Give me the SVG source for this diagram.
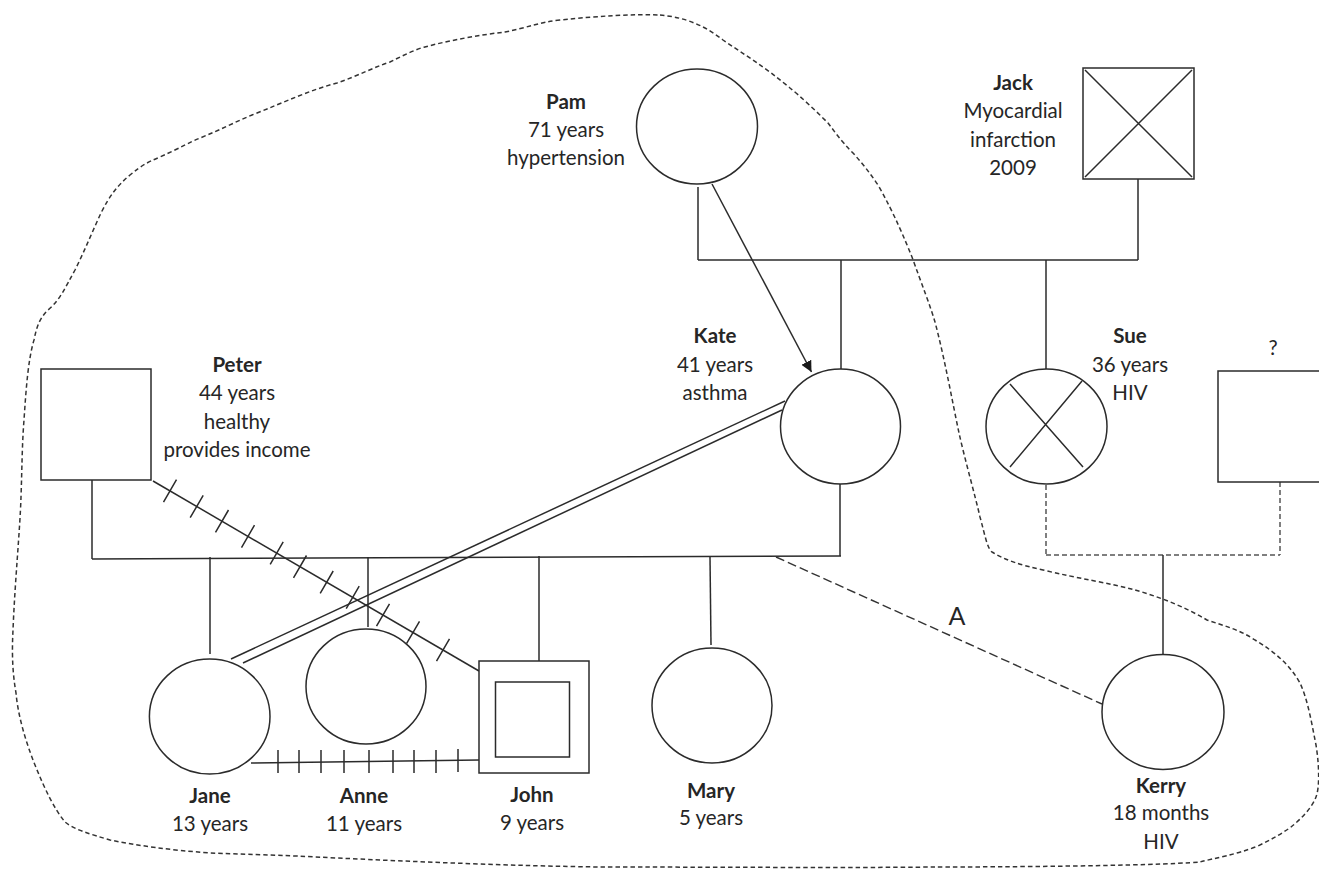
<svg xmlns="http://www.w3.org/2000/svg" width="1319" height="870" viewBox="0 0 1319 870">
<defs>
<style>
.s{fill:none;stroke:#2b2b2b;stroke-width:1.5}
.f{fill:#fff;stroke:#2b2b2b;stroke-width:1.5}
.d{fill:none;stroke:#555;stroke-width:1.5;stroke-dasharray:5 3}
.da{fill:none;stroke:#333;stroke-width:1.4;stroke-dasharray:9 4}
.b{fill:none;stroke:#333;stroke-width:1.5;stroke-dasharray:4.5 3}
text{font-family:Lato,"Open Sans","Liberation Sans",sans-serif;font-size:20.5px;fill:#262626;text-anchor:middle}
.n{font-weight:bold}
</style>
<marker id="ah" viewBox="0 0 10 10" refX="10" refY="5" markerWidth="11" markerHeight="11" markerUnits="userSpaceOnUse" orient="auto">
<path d="M0,0 L10,5 L0,10 Z" fill="#1a1a1a"/>
</marker>
</defs>
<rect width="1319" height="870" fill="#fff"/>

<g id="boundary">
<path class="b" d="M660,15 C680,17 700,22 723,40 C745,55 765,67 790,88 C800,96 815,110 828,123 C835,132 840,140 853,153 C862,163 870,173 878,185 C895,215 905,240 912,257 C922,285 930,305 935,322 C945,360 952,400 959,433 C965,460 975,495 980,517 C985,535 987,548 992,552 C1005,560 1020,565 1043,570 C1080,579 1110,583 1135,590 C1160,597 1185,607 1207,620 C1225,626 1240,630 1255,640 C1275,652 1290,665 1300,683 C1308,700 1312,725 1316,745 C1320,770 1319,790 1316,797 C1312,808 1300,820 1291,827 C1280,835 1270,840 1258,846 C1235,855 1215,858 1200,862 C1150,866 1000,867 934,867 C850,868 700,867 600,867 C520,866 420,862 337,858 C280,855 240,854 210,853 C170,850 140,846 110,840 C90,834 75,830 65,822 C55,810 45,790 35,765 C25,740 18,715 16,693 C12,670 12,650 13,630 C15,580 20,530 21,497 C22,470 22,445 24,420 C26,390 28,360 34,340 C37,325 40,318 48,310 C60,300 65,288 75,270 C85,250 93,230 101,213 C110,195 118,185 130,175 C142,165 148,162 160,157 C180,148 190,142 200,138 C220,130 235,122 252,115 C285,102 310,90 337,83 C360,75 372,68 390,62 C400,57 410,52 421,48 C450,40 480,35 505,32 C530,27 540,22 560,20 C600,16 630,14 660,15 Z"/>
</g>

<g id="connectors">
<line class="s" x1="698" y1="187" x2="698" y2="260"/>
<line class="s" x1="698" y1="260" x2="1138" y2="260"/>
<line class="s" x1="1138" y1="179" x2="1138" y2="260"/>
<line class="s" x1="841" y1="260" x2="841" y2="369"/>
<line class="s" x1="1046" y1="260" x2="1046" y2="369"/>
<line class="s" x1="712" y1="184" x2="811.5" y2="372" marker-end="url(#ah)"/>
<line class="s" x1="92" y1="480" x2="92" y2="559"/>
<line class="s" x1="92" y1="559" x2="841" y2="556"/>
<line class="s" x1="840" y1="484" x2="840" y2="556"/>
<line class="s" x1="210" y1="557" x2="210" y2="654"/>
<line class="s" x1="368" y1="557" x2="368" y2="627"/>
<line class="s" x1="539" y1="556" x2="539" y2="661"/>
<line class="s" x1="710" y1="557" x2="711" y2="645"/>
<line class="d" x1="1046" y1="485" x2="1046" y2="555"/>
<line class="d" x1="1046" y1="555" x2="1280" y2="555"/>
<line class="d" x1="1280" y1="482" x2="1280" y2="555"/>
<line class="s" x1="1163" y1="555" x2="1163" y2="655"/>
<line class="da" x1="776" y1="557" x2="1102" y2="704"/>
<text x="957" y="625" style="font-size:25px">A</text>
<line class="s" x1="231" y1="659" x2="785" y2="401"/>
<line class="s" x1="243" y1="663" x2="782" y2="410"/>
<g id="cutoff-peter-john">
<line class="s" x1="153" y1="481" x2="479" y2="671"/>
<path class="s" d="M163.5,502.1 l13,-22.4 M190.2,517.7 l13,-22.4 M215.5,532.4 l13,-22.4 M241.5,547.6 l13,-22.4 M270.2,564.3 l13,-22.4 M293.5,577.9 l13,-22.4 M320.2,593.4 l13,-22.4 M346.2,608.6 l13,-22.4 M376.5,626.2 l13,-22.4 M406.5,643.7 l13,-22.4 M436.5,661.2 l13,-22.4"/>
</g>
<g id="cutoff-jane-john">
<line class="s" x1="251" y1="763" x2="479" y2="760"/>
<path class="s" d="M278,750 v23 M299,750 v23 M321,750 v23 M344,750 v23 M369,750 v23 M393,750 v23 M414,750 v23 M436,750 v23 M458,749 v23"/>
</g>
</g>

<g id="pam">
<ellipse class="f" cx="697" cy="126.5" rx="60.5" ry="57.5"/>
<text class="n" x="566" y="109">Pam</text>
<text x="566" y="137">71 years</text>
<text x="566" y="165">hypertension</text>
</g>
<g id="jack">
<rect class="f" x="1083" y="68" width="111" height="111"/>
<path class="s" d="M1085,70 L1192,177 M1192,70 L1085,177"/>
<text class="n" x="1013" y="90">Jack</text>
<text x="1013" y="118">Myocardial</text>
<text x="1013" y="147">infarction</text>
<text x="1013" y="175">2009</text>
</g>
<g id="kate">
<ellipse class="f" cx="840.5" cy="426.5" rx="60" ry="57.5"/>
<text class="n" x="715" y="343">Kate</text>
<text x="715" y="372">41 years</text>
<text x="715" y="400">asthma</text>
</g>
<g id="sue">
<ellipse class="f" cx="1046.5" cy="426.5" rx="60.5" ry="57.5"/>
<path class="s" d="M1010,384 L1083,467 M1082,381 L1010,467"/>
<text class="n" x="1130" y="343">Sue</text>
<text x="1130" y="372">36 years</text>
<text x="1130" y="400">HIV</text>
</g>
<g id="unknown-father">
<rect class="f" x="1218" y="371" width="111" height="111"/>
<text x="1273" y="355">?</text>
</g>
<g id="peter">
<rect class="f" x="41" y="369" width="110" height="111"/>
<text class="n" x="237" y="372">Peter</text>
<text x="237" y="400">44 years</text>
<text x="237" y="429">healthy</text>
<text x="237" y="457">provides income</text>
</g>
<g id="jane">
<ellipse class="f" cx="209.7" cy="716.5" rx="60.3" ry="57.5" style="fill:none"/>
<text class="n" x="210" y="803">Jane</text>
<text x="210" y="831">13 years</text>
</g>
<g id="anne">
<ellipse class="f" cx="366" cy="686.5" rx="60" ry="57.5" style="fill:none"/>
<text class="n" x="364" y="803">Anne</text>
<text x="364" y="831">11 years</text>
</g>
<g id="john">
<rect class="f" x="479" y="661" width="110" height="112"/>
<rect class="f" x="495.5" y="682" width="74" height="75"/>
<text class="n" x="532" y="802">John</text>
<text x="532" y="830">9 years</text>
</g>
<g id="mary">
<ellipse class="f" cx="712" cy="705.5" rx="60" ry="57.5"/>
<text class="n" x="711" y="798">Mary</text>
<text x="711" y="825">5 years</text>
</g>
<g id="kerry">
<ellipse class="f" cx="1163" cy="712" rx="61" ry="57.5"/>
<text class="n" x="1161" y="793">Kerry</text>
<text x="1161" y="820">18 months</text>
<text x="1161" y="849">HIV</text>
</g>
</svg>
